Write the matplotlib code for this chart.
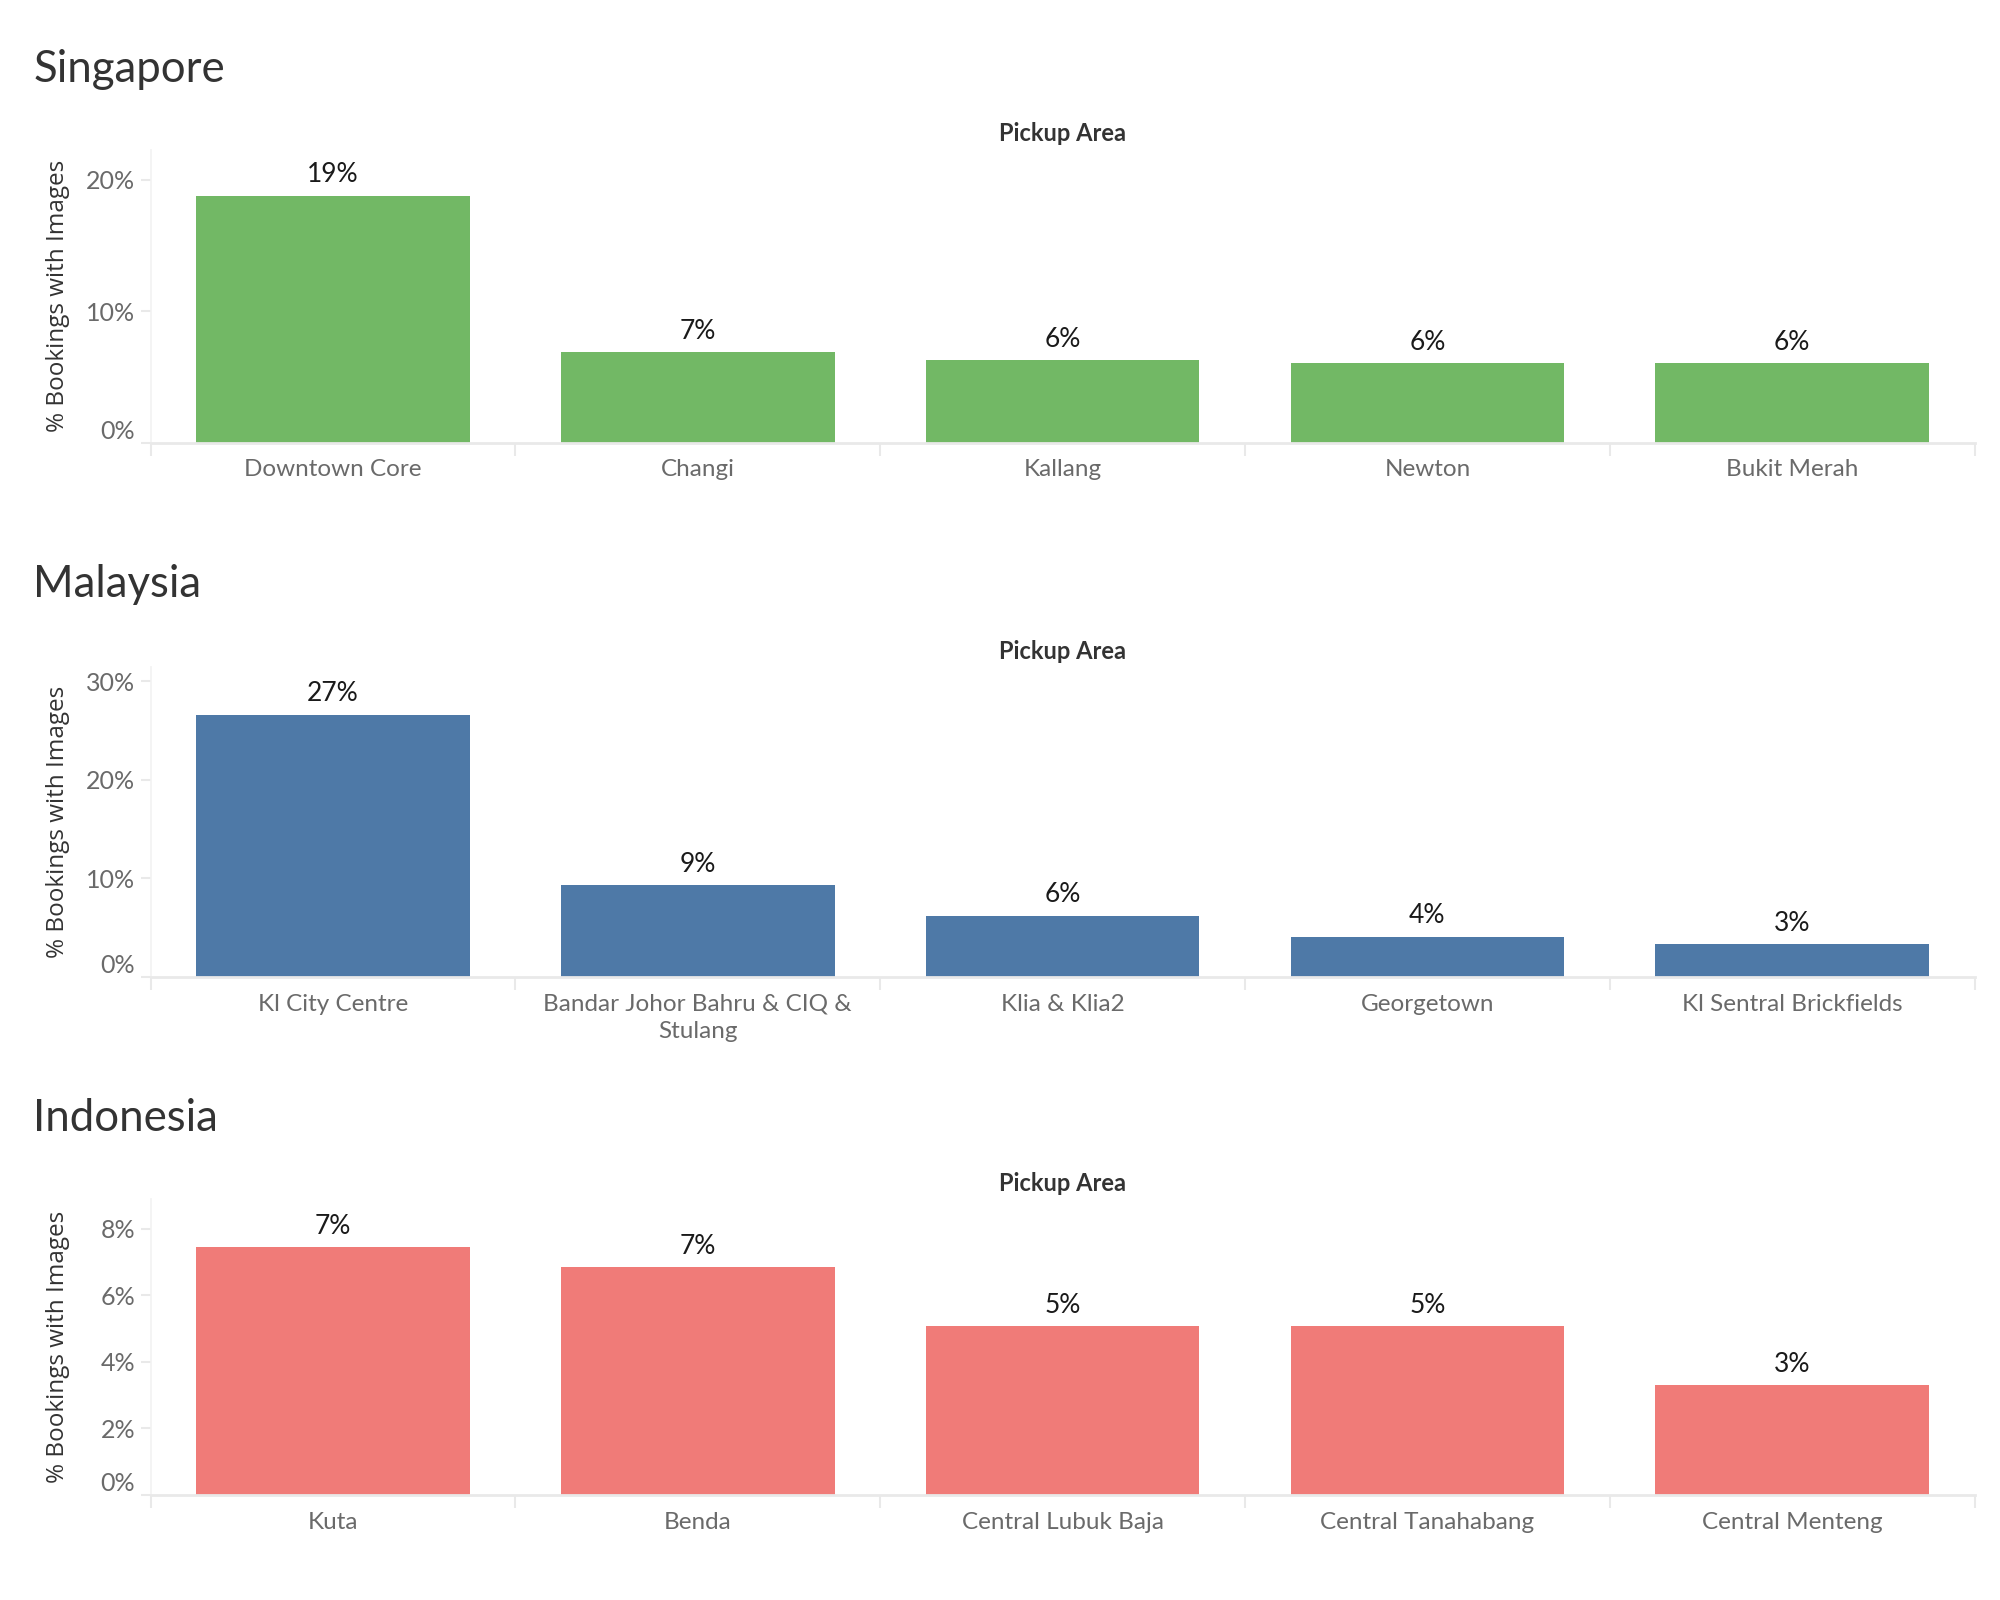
import matplotlib
matplotlib.use("Agg")
import matplotlib.pyplot as plt
import numpy as np

# data
sg_areas = ["Downtown Core", "Changi", "Kallang", "Newton", "Bukit Merah"]
sg_values = [18.8, 6.9, 6.3, 6.05, 6.05]

my_areas = ["Kl City Centre", "Bandar Johor Bahru & CIQ &\nStulang", "Klia & Klia2",
            "Georgetown", "Kl Sentral Brickfields"]
my_values = [26.6, 9.3, 6.2, 4.1, 3.35]

id_areas = ["Kuta", "Benda", "Central Lubuk Baja", "Central Tanahabang", "Central Menteng"]
id_values = [7.45, 6.85, 5.08, 5.08, 3.3]

sg_ticks = [0, 10, 20]
my_ticks = [0, 10, 20, 30]
id_ticks = [0, 2, 4, 6, 8]

plt.rcParams["font.family"] = ["Lato", "DejaVu Sans"]

fig = plt.figure(figsize=(20, 16), dpi=100)

panels = [
    ("Singapore", sg_areas, sg_values, sg_ticks, 22.3, "#72b865", [0.0753, 0.7234, 0.912, 0.183], 0.9565),
    ("Malaysia", my_areas, my_values, my_ticks, 31.4, "#4e79a7", [0.0753, 0.3894, 0.912, 0.1936], 0.6345),
    ("Indonesia", id_areas, id_values, id_ticks, 8.9, "#f07b78", [0.0753, 0.0657, 0.912, 0.185], 0.301),
]

grid_col = "#e9e9e9"

for title, areas, values, ticks, ytop, color, rect, ty in panels:
    ax = fig.add_axes(rect)
    x = np.arange(len(areas))
    ax.bar(x, values, width=0.75, color=color, zorder=2)
    for xi, v in zip(x, values):
        ax.annotate(f"{round(v)}%", (xi, v), xytext=(0, 6), textcoords="offset points",
                    ha="center", va="bottom", fontsize=19, color="#1a1a1a")

    ax.set_xlim(-0.5, len(areas) - 0.5)
    ax.set_ylim(0, ytop)
    ax.set_xticks(x)
    ax.set_xticklabels(areas, fontsize=17.5, color="#6a6a6a", linespacing=1.4)
    ax.set_xticks(np.arange(len(areas) + 1) - 0.5, minor=True)
    ax.tick_params(axis="x", which="major", length=0, pad=12)
    ax.tick_params(axis="x", which="minor", length=9, width=1.5, color=grid_col)

    ax.set_yticks(ticks)
    ax.set_yticklabels([f"{t}%" for t in ticks], fontsize=18, color="#6a6a6a")
    ax.tick_params(axis="y", length=7, width=1.5, color=grid_col, pad=4)
    ax.get_yticklabels()[0].set_va("bottom")

    for s in ["top", "right"]:
        ax.spines[s].set_visible(False)
    ax.spines["left"].set_color("#f2f2f2")
    ax.spines["left"].set_linewidth(1.2)
    ax.spines["bottom"].set_color(grid_col)
    ax.spines["bottom"].set_linewidth(2)

    ax.set_ylabel("% Bookings with Images", fontsize=17.5, color="#333333",
                  family=["Open Sans", "DejaVu Sans"])
    ax.yaxis.set_label_coords(-0.044, 0.5)
    ax.set_title("Pickup Area", fontsize=17, fontweight="bold", color="#333333", pad=6)

    fig.text(0.0166, ty, title, fontsize=31.5, color="#333333", va="center", ha="left")

fig.savefig("out.png", dpi=100, facecolor="white")
